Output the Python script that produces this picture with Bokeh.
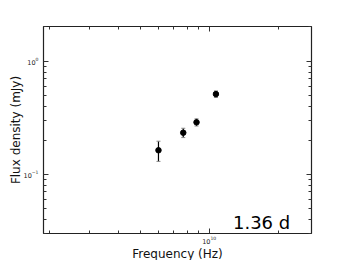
from bokeh.plotting import figure
from bokeh.models import (Whisker, ColumnDataSource, LogAxis, Label, TeeHead,
                          FixedTicker, LogTickFormatter, CustomJSTickFormatter)
from bokeh.embed import file_html
from bokeh.resources import INLINE

freq_hz = [6.0e9, 7.7e9, 8.8e9, 1.07e10]
flux_mjy = [0.163, 0.233, 0.288, 0.511]
flux_err = [0.033, 0.022, 0.021, 0.034]
epoch_label = "1.36 d"

x_major = [1e10]
x_minor = [2e9, 3e9, 4e9, 5e9, 6e9, 7e9, 8e9, 9e9, 2e10]
y_major = [0.1, 1.0]
y_minor = [0.03, 0.04, 0.05, 0.06, 0.07, 0.08, 0.09, 0.2, 0.3, 0.4, 0.5, 0.6, 0.7, 0.8, 0.9, 2.0]

src = ColumnDataSource(dict(
    x=freq_hz, y=flux_mjy,
    lo=[v - e for v, e in zip(flux_mjy, flux_err)],
    hi=[v + e for v, e in zip(flux_mjy, flux_err)],
))

p = figure(frame_width=268, frame_height=207, x_axis_type="log", y_axis_type="log",
           x_range=(1.886e9, 2.8e10), y_range=(0.030, 2.02),
           output_backend="svg", toolbar_location=None,
           min_border_left=43, min_border_top=26, min_border_right=35, min_border_bottom=0)
p.grid.visible = False
p.outline_line_color = "#222222"
p.outline_line_width = 1.2
p.background_fill_color = "white"

p.xaxis[0].ticker = FixedTicker(ticks=x_major, minor_ticks=x_minor)
p.yaxis[0].ticker = FixedTicker(ticks=y_major, minor_ticks=y_minor)

for ax in (p.xaxis[0], p.yaxis[0]):
    ax.formatter = LogTickFormatter()
    ax.axis_line_color = None
    ax.major_tick_in = 5
    ax.major_tick_out = 0
    ax.minor_tick_in = 3
    ax.minor_tick_out = 0
    ax.major_tick_line_color = "#333333"
    ax.minor_tick_line_color = "#333333"
    ax.major_label_text_font_size = "6.5px"
    ax.major_label_text_font = "DejaVu Sans"
    ax.major_label_text_color = "#222222"
    ax.axis_label_text_font = "DejaVu Sans"
    ax.axis_label_text_font_style = "normal"
    ax.axis_label_text_color = "#111111"
    ax.axis_label_text_font_size = "12px"

p.xaxis.major_label_standoff = 2
p.xaxis.axis_label_standoff = 0
p.yaxis.major_label_standoff = 5
p.yaxis.axis_label_standoff = -2
p.xaxis.axis_label = "Frequency (Hz)"
p.yaxis.axis_label = "Flux density (mJy)"

blank = CustomJSTickFormatter(code="return ''")
top = LogAxis(ticker=FixedTicker(ticks=x_major, minor_ticks=x_minor), formatter=blank,
              axis_line_color=None, major_tick_in=5, major_tick_out=0,
              minor_tick_in=3, minor_tick_out=0, major_label_standoff=0,
              major_tick_line_color="#333333", minor_tick_line_color="#333333")
right = LogAxis(ticker=FixedTicker(ticks=y_major, minor_ticks=y_minor), formatter=blank,
                axis_line_color=None, major_tick_in=5, major_tick_out=0,
                minor_tick_in=3, minor_tick_out=0, major_label_standoff=0,
                major_tick_line_color="#333333", minor_tick_line_color="#333333")
p.add_layout(top, "above")
p.add_layout(right, "right")

w = Whisker(source=src, base="x", lower="lo", upper="hi", dimension="height",
            line_color="black", line_width=1.2,
            upper_head=TeeHead(size=4, line_color="#888888", line_width=1),
            lower_head=TeeHead(size=4, line_color="#888888", line_width=1))
p.add_layout(w)
p.scatter("x", "y", source=src, size=5.5, color="black")

lab = Label(x=1.27e10, y=0.0377, text=epoch_label, text_font="DejaVu Sans",
            text_font_size="18px", text_color="black", text_baseline="alphabetic")
p.add_layout(lab)

open("out.html", "w").write(file_html(p, INLINE))
